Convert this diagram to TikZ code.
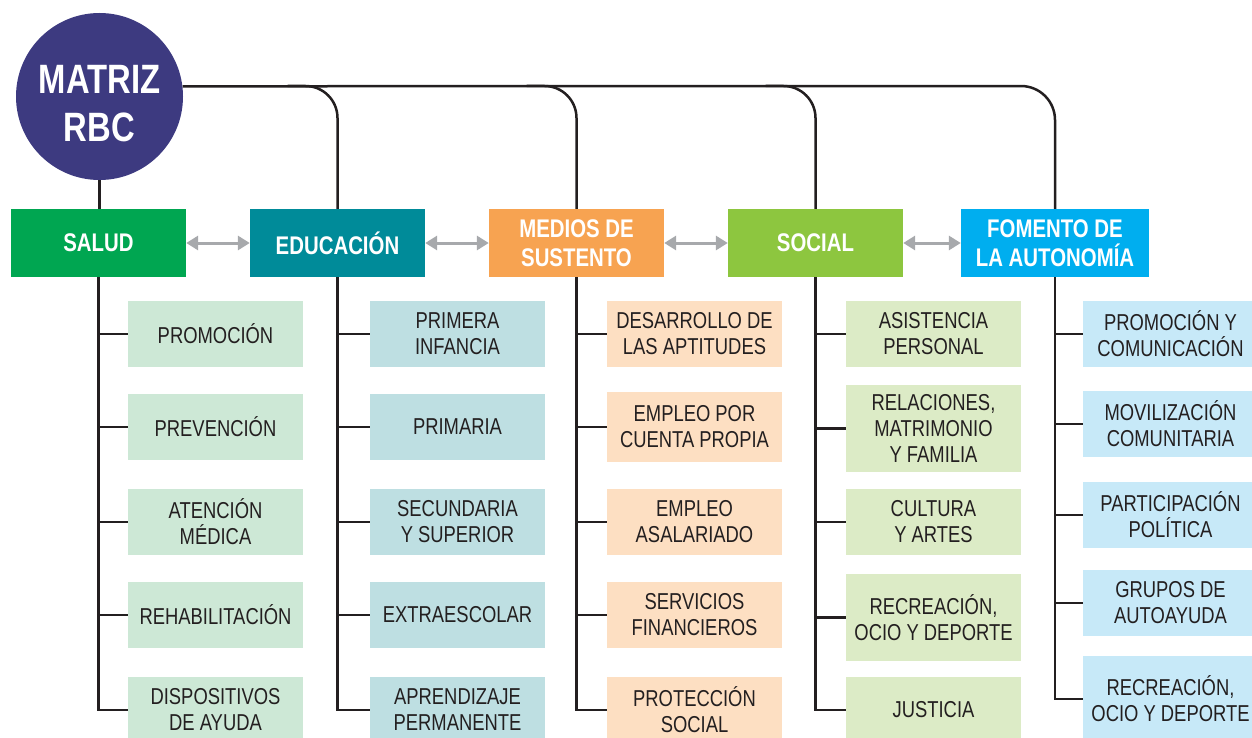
\documentclass[tikz,border=0pt]{standalone}
\usepackage{fontspec}
\setmainfont{Liberation Sans}[FakeStretch=0.8]
\usetikzlibrary{arrows.meta}

\definecolor{rbcpurple}{HTML}{3D3A80}
\definecolor{saludcol}{HTML}{00A651}
\definecolor{educol}{HTML}{008B99}
\definecolor{medioscol}{HTML}{F7A351}
\definecolor{socialcol}{HTML}{8DC63F}
\definecolor{fomentocol}{HTML}{00AEEF}
\definecolor{saludsub}{HTML}{CDE8D6}
\definecolor{edusub}{HTML}{BEDFE2}
\definecolor{mediossub}{HTML}{FDDFC2}
\definecolor{socialsub}{HTML}{DCEBC6}
\definecolor{fomentosub}{HTML}{C7E9F8}
\definecolor{inkcol}{HTML}{231F20}
\definecolor{arrowgray}{HTML}{A7A9AC}

\tikzset{
  head/.style={rectangle, minimum width=175, minimum height=68, inner sep=0,
    text=white, align=center, font=\fontsize{25.5}{29}\selectfont\bfseries},
  sub/.style={rectangle, minimum width=175, minimum height=66, inner sep=0,
    text=inkcol, align=center, font=\fontsize{23}{26}\selectfont},
  link/.style={draw=inkcol, line width=2.5},
  bothway/.style={draw=arrowgray, line width=3,
    {Triangle[length=12pt,width=14pt]}-{Triangle[length=12pt,width=14pt]}}
}

\begin{document}
\begin{tikzpicture}[x=1pt, y=-1pt]
\useasboundingbox (0,0) rectangle (1252,738);

% centre
\node [circle, fill=rbcpurple, minimum size=167, inner sep=0] (matriz) at (99.5,96.5) {};
\node [text=white, align=center, font=\fontsize{41}{48}\selectfont\bfseries] (matriztxt) at (99.5,104) {MATRIZ\\RBC};
\coordinate (top) at (0,86);

% columns
\node [head, fill=saludcol] (salud) at (98.5,243) {SALUD};
\node [head, fill=educol] (educacion) at (337.5,243) {EDUCACIÓN};
\node [head, fill=medioscol] (medios) at (576.5,243) {MEDIOS DE\\SUSTENTO};
\node [head, fill=socialcol] (social) at (815.5,243) {SOCIAL};
\node [head, fill=fomentocol, minimum width=188] (fomento) at (1055,243) {FOMENTO DE\\LA AUTONOMÍA};

\draw [bothway] (salud) -- (educacion);
\draw [bothway] (educacion) -- (medios);
\draw [bothway] (medios) -- (social);
\draw [bothway] (social) -- (fomento);

% top line
\draw [link] (matriz.south) -- (matriz.south |- salud.north);
\draw [link, rounded corners=34] (matriz.7) -- (fomento.north |- top) -- (fomento.north);
\foreach \c in {educacion, medios, social}{
\draw [link, rounded corners=32] ([xshift=-50pt]\c.north |- top) -- (\c.north |- top) -- (\c.north);
}

% subitems
\foreach \t/\y/\h [count=\i] in {PROMOCIÓN/334/66, PREVENCIÓN/427/66, {ATENCIÓN\\MÉDICA}/522/66,
  REHABILITACIÓN/615/66, {DISPOSITIVOS\\DE AYUDA}/710/66}{
\node [sub, fill=saludsub, minimum height=\h] (salud-\i) at (215.5,\y) {\t};
}
\foreach \t/\y/\h [count=\i] in {{PRIMERA\\INFANCIA}/334/66, PRIMARIA/427/66, {SECUNDARIA\\Y SUPERIOR}/522/66,
  EXTRAESCOLAR/615/66, {APRENDIZAJE\\PERMANENTE}/710/66}{
\node [sub, fill=edusub, minimum height=\h] (educacion-\i) at (457.5,\y) {\t};
}
\foreach \t/\y/\h [count=\i] in {{DESARROLLO DE\\LAS APTITUDES}/334/66, {EMPLEO POR\\CUENTA PROPIA}/427/70,
  {EMPLEO\\ASALARIADO}/522/66, {SERVICIOS\\FINANCIEROS}/615/66, {PROTECCIÓN\\SOCIAL}/710/66}{
\node [sub, fill=mediossub, minimum height=\h] (medios-\i) at (694.5,\y) {\t};
}
\foreach \t/\y/\h [count=\i] in {{ASISTENCIA\\PERSONAL}/334/66, {RELACIONES,\\MATRIMONIO\\Y FAMILIA}/428.5/87,
  {CULTURA\\Y ARTES}/522/66, {RECREACIÓN,\\OCIO Y DEPORTE}/617.5/87, JUSTICIA/710/66}{
\node [sub, fill=socialsub, minimum height=\h] (social-\i) at (933.5,\y) {\t};
}
\foreach \t/\y/\h [count=\i] in {{PROMOCIÓN Y\\COMUNICACIÓN}/334/66, {MOVILIZACIÓN\\COMUNITARIA}/424/66,
  {PARTICIPACIÓN\\POLÍTICA}/515/66, {GRUPOS DE\\AUTOAYUDA}/603/66, {RECREACIÓN,\\OCIO Y DEPORTE}/699/86}{
\node [sub, fill=fomentosub, minimum height=\h] (fomento-\i) at (1170.5,\y) {\t};
}

% branches
\foreach \c in {salud, educacion, medios, social, fomento}{
\draw [link] (\c.south) -- (\c.south |- \c-5.west) -- (\c-5.west);
\foreach \i in {1,...,4}{\draw [link] (\c.south |- \c-\i.west) -- (\c-\i.west);}
}
\end{tikzpicture}
\end{document}
